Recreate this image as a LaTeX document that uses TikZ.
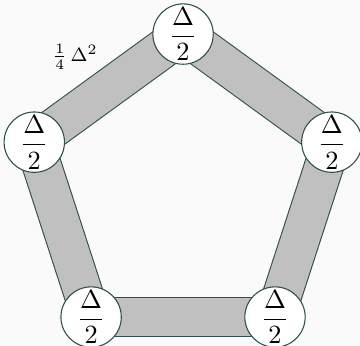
\documentclass[tikz,border=0pt]{standalone}
\usepackage{amsmath}
\usepackage{tikz}
\usetikzlibrary{positioning}

\definecolor{edgeline}{RGB}{47,79,79}
\definecolor{bandfill}{RGB}{192,192,192}
\definecolor{paper}{RGB}{250,250,250}

\pgfdeclarelayer{bg}
\pgfsetlayers{bg,main}

\begin{document}
\begin{tikzpicture}[
  vert/.style={circle, draw=edgeline, fill=white, line width=0.45pt, minimum size=22.9pt, inner sep=0pt, font=\fontsize{11}{13}\selectfont},
  band/.style={draw=edgeline, line width=0.45pt, double=bandfill, double distance=15.8pt}
]
\useasboundingbox (-76.3pt,-64.8pt) rectangle (73.75pt,79.4pt);

\node[vert] (top) at (90:65.2pt) {$\dfrac{\Delta}{2}$};
\node[vert] (left) at (162:65.2pt) {$\dfrac{\Delta}{2}$};
\node[vert] (botleft) at (234:65.2pt) {$\dfrac{\Delta}{2}$};
\node[vert] (botright) at (306:65.2pt) {$\dfrac{\Delta}{2}$};
\node[vert] (right) at (18:65.2pt) {$\dfrac{\Delta}{2}$};

\begin{pgfonlayer}{bg}
\fill[paper] (-76.3pt,-64.8pt) rectangle (73.75pt,79.4pt);
\draw[band] (top.center) -- (left.center) node[midway, xshift=-14pt, yshift=13pt, text=black, font=\footnotesize] {$\frac{1}{4}\,\Delta^2$};
\draw[band] (left.center) -- (botleft.center);
\draw[band] (botleft.center) -- (botright.center);
\draw[band] (botright.center) -- (right.center);
\draw[band] (right.center) -- (top.center);
\end{pgfonlayer}
\end{tikzpicture}
\end{document}
